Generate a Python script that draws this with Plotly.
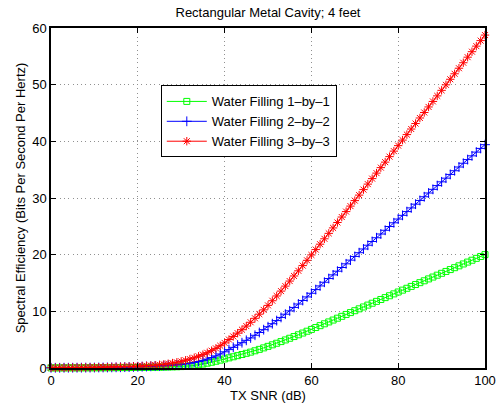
import plotly.graph_objects as go

snr_db = list(range(0, 101))

wf_1x1 = [0.02,0.02,0.02,0.02,0.03,0.03,0.03,0.03,0.04,0.04,0.04,0.05,0.05,0.05,0.06,0.06,0.07,0.07,0.08,0.09,0.10,
          0.11,0.12,0.13,0.14,0.15,0.165,0.18,0.2,0.22,0.25,
          0.30,0.37,0.46,0.57,0.70,0.85,1.01,1.19,1.39,1.60,
          1.79,1.98,2.18,2.38,2.59,2.80,3.04,3.29,3.55,3.82,
          4.09,4.37,4.66,4.95,5.25,5.55,5.86,6.17,6.49,6.81,
          7.14,7.47,7.8,8.13,8.46,8.79,9.12,9.45,9.78,10.11,
          10.44,10.77,11.1,11.43,11.76,12.09,12.42,12.75,13.08,13.41,
          13.74,14.07,14.4,14.73,15.06,15.39,15.72,16.05,16.38,16.71,
          17.04,17.37,17.7,18.03,18.36,18.69,19.02,19.35,19.68,20.01]

wf_2x2 = [0.04,0.04,0.04,0.05,0.05,0.05,0.06,0.06,0.07,0.07,0.08,0.09,0.09,0.10,0.11,0.12,0.13,0.15,0.17,0.19,0.22,
          0.24,0.265,0.295,0.325,0.36,0.40,0.445,0.495,0.555,0.615,
          0.715,0.835,0.975,1.145,1.345,1.575,1.835,2.135,2.475,2.855,
          3.245,3.645,4.055,4.465,4.885,5.305,5.775,6.265,6.765,7.285,
          7.815,8.365,8.925,9.495,10.085,10.685,11.295,11.915,12.545,13.185,
          13.835,14.485,15.135,15.785,16.435,17.085,17.735,18.385,19.035,19.685,
          20.345,21.005,21.665,22.325,22.985,23.645,24.305,24.965,25.625,26.285,
          26.94,27.6,28.25,28.91,29.57,30.22,30.88,31.53,32.19,32.85,
          33.5,34.16,34.81,35.47,36.13,36.78,37.44,38.1,38.75,39.41]

wf_3x3 = [0.05,0.05,0.06,0.06,0.07,0.08,0.08,0.09,0.10,0.11,0.12,0.13,0.14,0.16,0.18,0.20,0.22,0.24,0.26,0.29,0.32,
          0.35,0.39,0.44,0.50,0.57,0.65,0.75,0.87,1.01,1.17,
          1.36,1.57,1.81,2.07,2.36,2.69,3.06,3.47,3.93,4.43,
          5.02,5.57,6.15,6.76,7.40,8.07,8.77,9.50,10.26,11.05,
          11.87,12.71,13.57,14.45,15.34,16.24,17.15,18.07,19.0,19.95,
          20.9,21.85,22.8,23.76,24.72,25.68,26.64,27.6,28.57,29.54,
          30.51,31.48,32.45,33.42,34.39,35.36,36.33,37.3,38.27,39.24,
          40.22,41.19,42.17,43.14,44.12,45.09,46.07,47.04,48.02,49.0,
          49.97,50.95,51.92,52.9,53.87,54.85,55.82,56.8,57.77,58.75]

series_names = ["Water Filling 1\u2013by\u20131", "Water Filling 2\u2013by\u20132", "Water Filling 3\u2013by\u20133"]
x_ticks = [0, 20, 40, 60, 80, 100]
y_ticks = [0, 10, 20, 30, 40, 50, 60]

FONT = "Liberation Sans, Arial, Helvetica, sans-serif"

fig = go.Figure()
styles = [
    (wf_1x1, "#00ff00", "square-open", 6),
    (wf_2x2, "#0000ff", "cross-thin-open", 7),
    (wf_3x3, "#ff0000", "asterisk-open", 7),
]
for (vals, col, sym, sz), name in zip(styles, series_names):
    fig.add_trace(go.Scatter(
        x=snr_db, y=vals, mode="lines+markers", name=name,
        line=dict(color=col, width=1),
        marker=dict(symbol=sym, size=sz, color=col, line=dict(color=col, width=1)),
        cliponaxis=False,
    ))

axis_common = dict(
    showline=True, linecolor="black", linewidth=1.5, mirror="ticks",
    ticks="inside", ticklen=5, tickcolor="black", tickwidth=1,
    showgrid=True, gridcolor="#909090", griddash="1px,3.3px", gridwidth=1,
    zeroline=False, automargin=False,
    tickfont=dict(size=13, color="black", family=FONT),
)

fig.update_layout(
    width=499, height=408,
    margin=dict(l=51, r=14, t=28, b=40),
    paper_bgcolor="white", plot_bgcolor="white",
    font=dict(family=FONT, size=13, color="black"),
    title=dict(text="Rectangular Metal Cavity; 4 feet", x=(51 + 485) / 2 / 499, xanchor="center",
               y=1 - 12 / 408, yanchor="middle", font=dict(size=13, color="black"),
               automargin=False),
    xaxis=dict(range=[0, 100], tickvals=x_ticks, ticktext=[str(v) for v in x_ticks],
               title=dict(text="TX SNR (dB)", standoff=2, font=dict(size=13)), **axis_common),
    yaxis=dict(range=[0, 60], tickvals=y_ticks, ticktext=[str(v) for v in y_ticks],
               title=dict(text="Spectral Efficiency (Bits Per Second Per Hertz)", standoff=4, font=dict(size=13)),
               **axis_common),
    legend=dict(x=0.253, y=0.831, xanchor="left", yanchor="top",
                bgcolor="white", bordercolor="black", borderwidth=1,
                font=dict(size=13, color="black"), tracegroupgap=0, itemwidth=40),
    showlegend=True,
)

fig.write_html("out.html")
